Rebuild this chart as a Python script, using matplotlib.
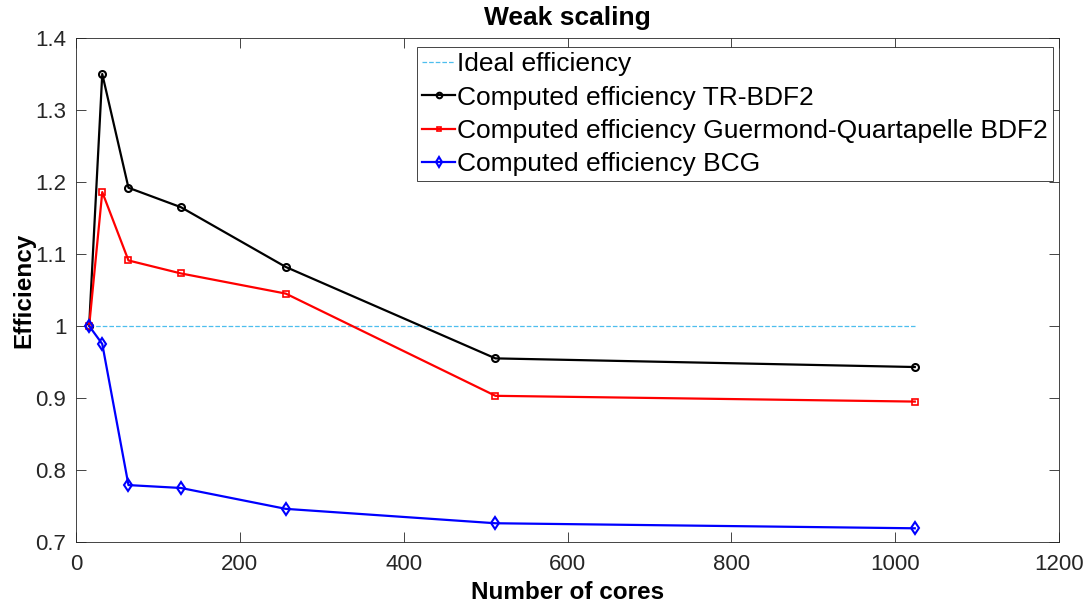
import matplotlib
matplotlib.use("Agg")
import matplotlib.pyplot as plt

plt.rcParams['font.family'] = ['Liberation Sans', 'DejaVu Sans']

# number of cores
cores = [16, 32, 64, 128, 256, 512, 1024]
ideal = [1, 1, 1, 1, 1, 1, 1]
eff_trbdf2 = [1.0, 1.35, 1.192, 1.165, 1.082, 0.955, 0.943]
eff_gq = [1.0, 1.186, 1.091, 1.073, 1.045, 0.903, 0.895]
eff_bcg = [1.0, 0.975, 0.779, 0.775, 0.746, 0.726, 0.719]

fig = plt.figure(figsize=(10.88, 6.08), dpi=100)
ax = fig.add_axes([0.0699, 0.1086, 0.9034, 0.8289])

ax.plot(cores, ideal, '--', color='#4DBEEE', linewidth=0.9, label='Ideal efficiency')
ax.plot(cores, eff_trbdf2, '-o', color='k', linewidth=1.6, markersize=5,
        markerfacecolor='none', markeredgewidth=1.5, label='Computed efficiency TR-BDF2')
ax.plot(cores, eff_gq, '-s', color='r', linewidth=1.6, markersize=4,
        markerfacecolor='none', markeredgewidth=1.2,
        label='Computed efficiency Guermond-Quartapelle BDF2')
ax.plot(cores, eff_bcg, '-d', color='b', linewidth=1.6, markersize=6,
        markerfacecolor='none', markeredgewidth=1.5, label='Computed efficiency BCG')

ax.set_xlim(0, 1200)
ax.set_ylim(0.7, 1.4)
ax.set_xticks([0, 200, 400, 600, 800, 1000, 1200])
ax.set_yticks([0.7, 0.8, 0.9, 1.0, 1.1, 1.2, 1.3, 1.4])
ax.set_yticklabels(['0.7', '0.8', '0.9', '1', '1.1', '1.2', '1.3', '1.4'])

for s in ax.spines.values():
    s.set_color('#262626')
    s.set_linewidth(0.6)
ax.tick_params(direction='in', top=True, right=True, length=7, width=0.6,
               color='#262626', labelsize=16, labelcolor='#262626')
ax.tick_params(axis='x', pad=9)
ax.tick_params(axis='y', pad=7)

ax.set_title('Weak scaling', fontsize=19, fontweight='bold', pad=9)
ax.set_xlabel('Number of cores', fontsize=17.5, fontweight='bold', labelpad=4)
ax.set_ylabel('Efficiency', fontsize=17.5, fontweight='bold', labelpad=0)

leg = ax.legend(loc='upper left', bbox_to_anchor=(0.347, 0.982), fontsize=19,
                fancybox=False, framealpha=1, edgecolor='#262626',
                handlelength=1.25, handletextpad=0.05, borderpad=0.2,
                labelspacing=0.35, borderaxespad=0, markerscale=0.8)
leg.get_frame().set_linewidth(0.6)

fig.savefig('out.png', dpi=100)
